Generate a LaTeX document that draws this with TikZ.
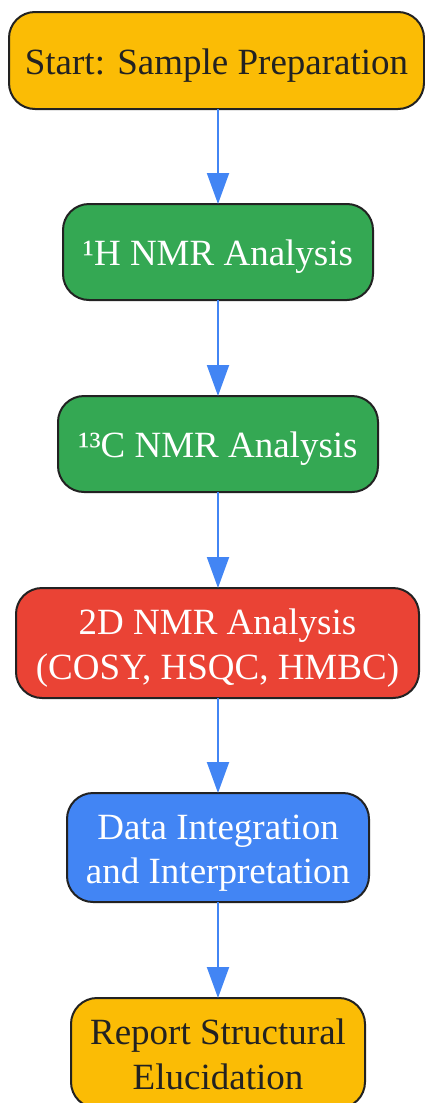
\documentclass[tikz,border=0pt]{standalone}
\usepackage{fontspec}
\setmainfont{Liberation Serif}
\usetikzlibrary{arrows.meta}
\definecolor{gyellow}{HTML}{FBBC05}
\definecolor{ggreen}{HTML}{34A853}
\definecolor{gred}{HTML}{EA4335}
\definecolor{gblue}{HTML}{4285F4}
\definecolor{edgec}{HTML}{222222}
\newcommand\lnstrut{\rule[-8.5pt]{0pt}{44.5pt}}
\tikzset{
  box/.style={draw=edgec, line width=2pt, rounded corners=26pt, align=center,
    inner sep=0pt, outer sep=0pt, font={\fontsize{37}{44.5}\selectfont}},
  yellowbox/.style={box, fill=gyellow, text=edgec},
  greenbox/.style={box, fill=ggreen, text=white},
  redbox/.style={box, fill=gred, text=white},
  bluebox/.style={box, fill=gblue, text=white},
  flow/.style={draw=gblue, line width=2pt, -{Triangle[length=31pt,width=22pt]}}
}
\begin{document}
\begin{tikzpicture}[x=1pt,y=1pt]
\useasboundingbox (0,0) rectangle (425,-1103);
\node[yellowbox, minimum width=415pt, minimum height=97pt] (n1) at (216.5,-60.5) {\lnstrut Start: Sample Preparation};
\node[greenbox, minimum width=310pt, minimum height=96pt] (n2) at (218,-252) {\lnstrut ¹H NMR Analysis};
\node[greenbox, minimum width=320pt, minimum height=96pt] (n3) at (218,-444) {\lnstrut ¹³C NMR Analysis};
\node[redbox, minimum width=403pt, minimum height=110pt] (n4) at (217.5,-643) {\lnstrut 2D NMR Analysis\\\lnstrut (COSY, HSQC, HMBC)};
\node[bluebox, minimum width=302pt, minimum height=109pt] (n5) at (218,-847.5) {\lnstrut Data Integration\\\lnstrut and Interpretation};
\node[yellowbox, minimum width=294pt, minimum height=110pt] (n6) at (218,-1053) {\lnstrut Report Structural\\\lnstrut Elucidation};
\draw[flow] (n1.south -| n2.north) -- (n2.north);
\draw[flow] (n2) -- (n3);
\draw[flow] (n3) -- (n4.north -| n3.south);
\draw[flow] (n4.south -| n3.south) -- (n5.north);
\draw[flow] (n5) -- (n6);
\end{tikzpicture}
\end{document}
